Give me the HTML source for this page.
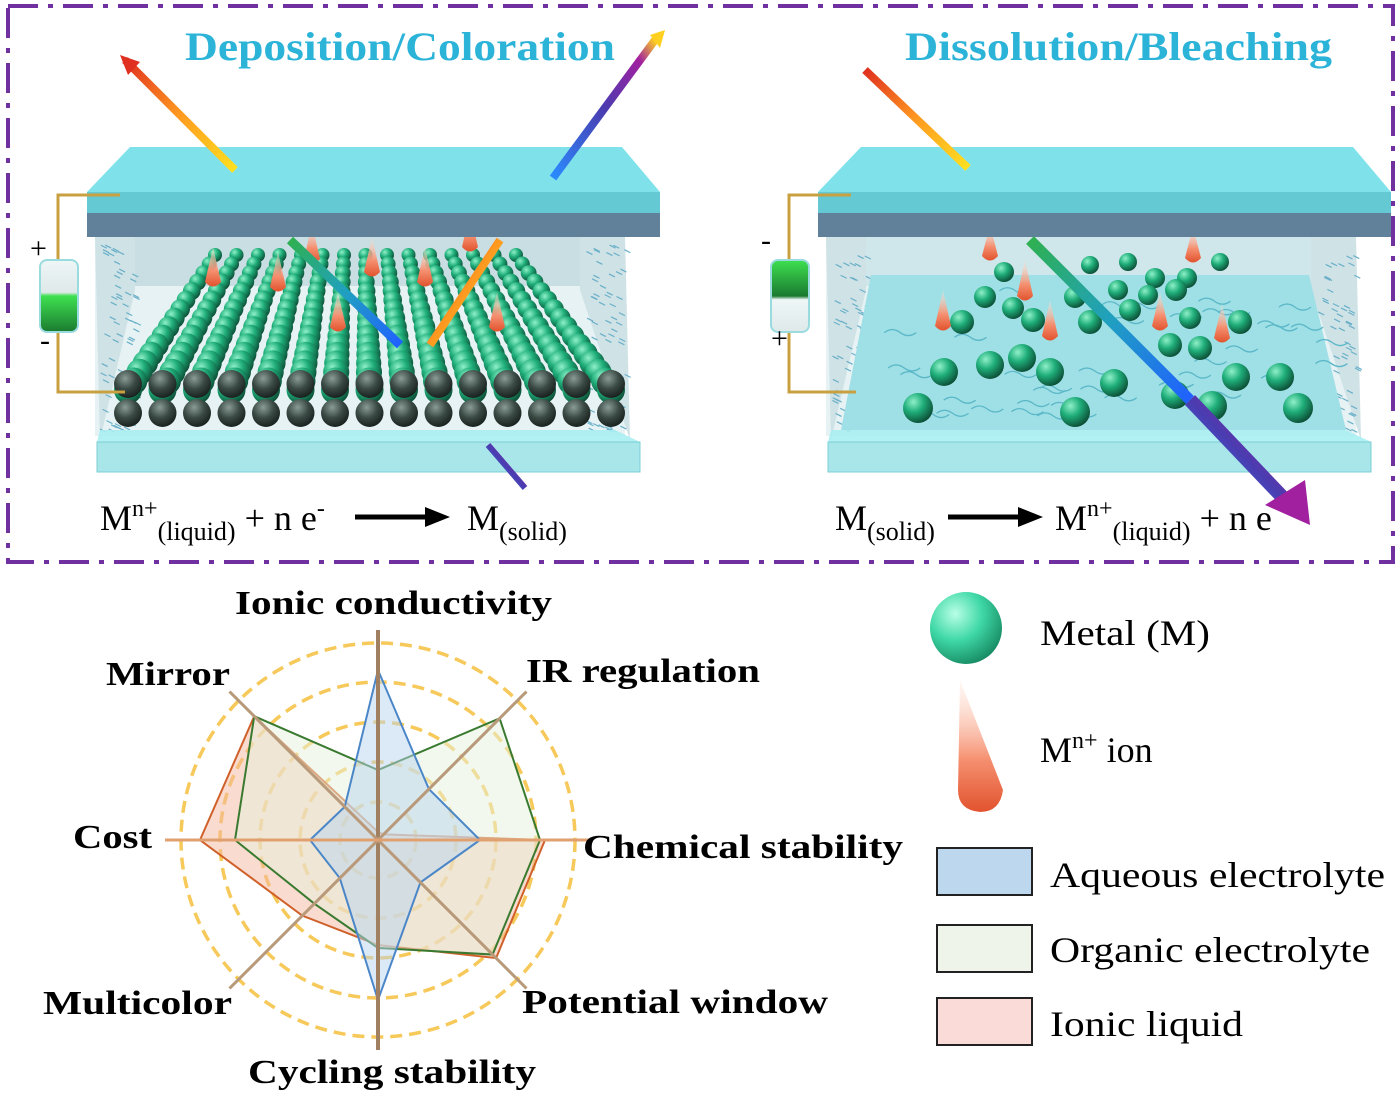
<!DOCTYPE html>
<html><head><meta charset="utf-8"><style>
html,body{margin:0;padding:0;background:#fff;}
svg{display:block;}
text{font-family:"Liberation Serif",serif;}
</style></head><body>
<svg id="s" width="1400" height="1099" viewBox="0 0 1400 1099" xmlns="http://www.w3.org/2000/svg">
<defs>
<radialGradient id="gs" cx="0.35" cy="0.3" r="0.75"><stop offset="0" stop-color="#8ff0c8"/><stop offset="0.45" stop-color="#1fae7a"/><stop offset="1" stop-color="#0b4a33"/></radialGradient>
<radialGradient id="gd" cx="0.4" cy="0.3" r="0.75"><stop offset="0" stop-color="#8a9c96"/><stop offset="0.5" stop-color="#3b4a45"/><stop offset="1" stop-color="#141c1a"/></radialGradient>
<radialGradient id="gb" cx="0.35" cy="0.3" r="0.75"><stop offset="0" stop-color="#b8ffe6"/><stop offset="0.5" stop-color="#3fd8a6"/><stop offset="1" stop-color="#178a63"/></radialGradient>
<linearGradient id="gc" x1="0" y1="0" x2="0" y2="1"><stop offset="0" stop-color="#ffe8dc" stop-opacity="0.3"/><stop offset="0.6" stop-color="#f59070"/><stop offset="1" stop-color="#e2532e"/></linearGradient>
<linearGradient id="r1" x1="0" y1="0" x2="1" y2="1"><stop offset="0" stop-color="#e03020"/><stop offset="0.5" stop-color="#ff9a20"/><stop offset="1" stop-color="#ffe020"/></linearGradient>
<linearGradient id="r2" x1="0" y1="1" x2="1" y2="0"><stop offset="0" stop-color="#2a8cff"/><stop offset="0.5" stop-color="#4a3cb0"/><stop offset="0.85" stop-color="#a020a0"/><stop offset="1" stop-color="#ffd020"/></linearGradient>
<linearGradient id="r3" x1="0" y1="0" x2="1" y2="1"><stop offset="0" stop-color="#2fb050"/><stop offset="0.5" stop-color="#20a0c0"/><stop offset="1" stop-color="#2060ff"/></linearGradient>
<linearGradient id="bat" x1="0" y1="0" x2="0" y2="1"><stop offset="0" stop-color="#eef6f6"/><stop offset="0.45" stop-color="#dfe9ea"/><stop offset="0.5" stop-color="#3ee050"/><stop offset="1" stop-color="#1b7a30"/></linearGradient>
<linearGradient id="bat2" x1="0" y1="0" x2="0" y2="1"><stop offset="0" stop-color="#3ee050"/><stop offset="0.5" stop-color="#1b7a30"/><stop offset="0.55" stop-color="#eef6f6"/><stop offset="1" stop-color="#dfe9ea"/></linearGradient>
</defs>

<rect x="8" y="6" width="1385" height="556" fill="none" stroke="#7030a0" stroke-width="4" stroke-dasharray="30,10,5,10"/>

<text x="185" y="60" textLength="430" lengthAdjust="spacingAndGlyphs" font-size="40" font-weight="bold" fill="#2bb3d8">Deposition/Coloration</text>
<text x="905" y="60" textLength="427" lengthAdjust="spacingAndGlyphs" font-size="40" font-weight="bold" fill="#2bb3d8">Dissolution/Bleaching</text>

<g id="left"></g>
<g id="right"></g>

<text x="100" y="530" font-size="36">M<tspan font-size="24" dy="-14">n+</tspan><tspan font-size="26" dy="24">(liquid)</tspan><tspan dy="-10"> + n e</tspan><tspan font-size="24" dy="-14">-</tspan></text>
<line x1="355" y1="517" x2="428" y2="517" stroke="#000" stroke-width="5"/><polygon points="425,507 450,517 425,527" fill="#000"/>
<text x="467" y="530" font-size="36">M<tspan font-size="26" dy="10">(solid)</tspan></text>
<text x="835" y="530" font-size="36">M<tspan font-size="26" dy="10">(solid)</tspan></text>
<line x1="948" y1="517" x2="1022" y2="517" stroke="#000" stroke-width="5"/><polygon points="1018,507 1043,517 1018,527" fill="#000"/>
<text x="1055" y="530" font-size="36">M<tspan font-size="24" dy="-14">n+</tspan><tspan font-size="26" dy="24">(liquid)</tspan><tspan dy="-10"> + n e</tspan></text>

<g id="radar"></g>
<g font-size="34" font-weight="bold">
<text x="235" y="614" textLength="317" lengthAdjust="spacingAndGlyphs">Ionic conductivity</text>
<text x="526" y="682" textLength="234" lengthAdjust="spacingAndGlyphs">IR regulation</text>
<text x="583" y="858" textLength="320" lengthAdjust="spacingAndGlyphs">Chemical stability</text>
<text x="522" y="1013" textLength="306" lengthAdjust="spacingAndGlyphs">Potential window</text>
<text x="248" y="1083" textLength="288" lengthAdjust="spacingAndGlyphs">Cycling stability</text>
<text x="43" y="1014" textLength="189" lengthAdjust="spacingAndGlyphs">Multicolor</text>
<text x="73" y="848" textLength="79" lengthAdjust="spacingAndGlyphs">Cost</text>
<text x="106" y="685" textLength="124" lengthAdjust="spacingAndGlyphs">Mirror</text>
</g>

<circle cx="966" cy="628" r="36" fill="url(#gb)"/>
<path d="M960,680 L1003,790 Q1000,812 980,812 Q958,810 958,790 Z" fill="url(#gc)"/>
<text x="1040" y="645" font-size="36" textLength="170" lengthAdjust="spacingAndGlyphs">Metal (M)</text>
<text x="1040" y="762" font-size="36">M<tspan font-size="24" dy="-14">n+</tspan><tspan dy="14"> ion</tspan></text>
<rect x="937" y="848" width="95" height="47" fill="#bdd7ee" stroke="#222" stroke-width="2"/>
<rect x="937" y="925" width="95" height="47" fill="#eef4ea" stroke="#222" stroke-width="2"/>
<rect x="937" y="998" width="95" height="47" fill="#fadbd8" stroke="#222" stroke-width="2"/>
<text x="1050" y="887" font-size="36" textLength="335" lengthAdjust="spacingAndGlyphs">Aqueous electrolyte</text>
<text x="1050" y="962" font-size="36" textLength="320" lengthAdjust="spacingAndGlyphs">Organic electrolyte</text>
<text x="1050" y="1036" font-size="36" textLength="193" lengthAdjust="spacingAndGlyphs">Ionic liquid</text>
</svg>
<script>
var NS="http://www.w3.org/2000/svg";
function el(p,t,a){var e=document.createElementNS(NS,t);for(var k in a)e.setAttribute(k,a[k]);p.appendChild(e);return e;}
function device(g,ox,dep){
  el(g,"rect",{x:ox+95,y:236,width:530,height:200,fill:"#e6f2f4"});
  el(g,"rect",{x:ox+135,y:236,width:445,height:50,fill:dep?"#c8dee2":"#cfe6ea"});
  el(g,"polygon",{points:(ox+95)+",236 "+(ox+135)+",236 "+(ox+135)+",290 "+(ox+100)+",440",fill:"#cfe2e6"});
  el(g,"polygon",{points:(ox+580)+",236 "+(ox+625)+",236 "+(ox+630)+",440 "+(ox+580)+",290",fill:"#cfe2e6"});
  for(var i=0;i<60;i++){var x=ox+100+Math.random()*35,y=245+Math.random()*185;el(g,"line",{x1:x,y1:y,x2:x+6,y2:y+3,stroke:"#6ab0c8","stroke-width":1.2});
    x=ox+585+Math.random()*40;el(g,"line",{x1:x,y1:y,x2:x+6,y2:y+3,stroke:"#6ab0c8","stroke-width":1.2});}
  if(dep){
    for(var r=0;r<16;r++){var t=r/15;var y=255+t*135;var rad=7+t*7;
      for(var c=0;c<15;c++){var fx=ox+128+c*34.5,bx=ox+215+c*21.5;var x=bx+(fx-bx)*t;
        el(g,"circle",{cx:x,cy:y,r:rad,fill:"url(#gs)"});}}
    for(var c=0;c<15;c++){var x=ox+128+c*34.5;el(g,"circle",{cx:x,cy:413,r:14,fill:"url(#gd)"});el(g,"circle",{cx:x,cy:384,r:14,fill:"url(#gd)"});}
    [[213,285],[278,290],[312,262],[372,275],[425,285],[470,250],[338,330],[497,330]].forEach(function(p){el(g,"path",{d:"M"+(ox+p[0])+","+(p[1]-38)+" L"+(ox+p[0]+8)+","+(p[1]-3)+" Q"+(ox+p[0])+","+(p[1]+6)+" "+(ox+p[0]-8)+","+(p[1]-3)+" Z",fill:"url(#gc)"});});
  }else{
    el(g,"polygon",{points:(ox+140)+",275 "+(ox+578)+",275 "+(ox+615)+",430 "+(ox+110)+",430",fill:"#9fe0e6"});
    for(var i=0;i<40;i++){var x=ox+130+Math.random()*470,y=290+Math.random()*130;el(g,"path",{d:"M"+x+","+y+" q8,-6 16,0 t16,0",stroke:"#5cb8c8",fill:"none","stroke-width":1.3});}
    [[1004,272,8],[1090,265,7],[1128,262,7],[1155,278,8],[1187,278,8],[1220,262,7],[1118,290,8],[1148,295,8],[985,297,9],[1013,308,9],[1075,297,9],[1130,310,9],[1176,290,9],[1190,318,9],[962,322,10],[1033,320,10],[1090,322,10],[1170,345,10],[1200,348,10],[1240,322,10],[944,372,12],[990,365,12],[1050,372,12],[1114,383,12],[1175,395,12],[1236,377,12],[1280,377,12],[1022,358,12],[918,408,13],[1075,412,13],[1212,406,13],[1298,408,13]].forEach(function(p){el(g,"circle",{cx:p[0],cy:p[1],r:p[2]+2,fill:"url(#gs)"});});
    [[990,260,35],[1193,262,35],[943,330,40],[1025,300,40],[1050,340,40],[1160,330,38],[1222,342,38]].forEach(function(p){var x=p[0];el(g,"path",{d:"M"+x+","+(p[1]-p[2])+" L"+(x+8)+","+(p[1]-4)+" Q"+x+","+(p[1]+5)+" "+(x-8)+","+(p[1]-4)+" Z",fill:"url(#gc)"});});
  }
  el(g,"polygon",{points:(ox+100)+",430 "+(ox+615)+",430 "+(ox+640)+",442 "+(ox+97)+",442",fill:"#a8eef2",opacity:0.9});
  el(g,"rect",{x:ox+97,y:442,width:543,height:30,fill:"#a8e6ea",stroke:"#7ccfd6"});
  el(g,"polygon",{points:(ox+130)+",147 "+(ox+622)+",147 "+(ox+660)+",192 "+(ox+87)+",192",fill:"#7fe2ea"});
  el(g,"rect",{x:ox+87,y:192,width:573,height:25,fill:"#64c9d2"});
  el(g,"rect",{x:ox+87,y:213,width:573,height:24,fill:"#61809a"});
  el(g,"path",{d:"M"+(ox+120)+",195 L"+(ox+58)+",195 L"+(ox+58)+",260 M"+(ox+58)+",332 L"+(ox+58)+",392 L"+(ox+125)+",392",stroke:"#c8a040",fill:"none","stroke-width":3});
  el(g,"rect",{x:ox+40,y:260,width:38,height:72,rx:7,fill:dep?"url(#bat)":"url(#bat2)",stroke:"#9adbe0","stroke-width":2});
  var sg=el(g,"g",{"font-size":"30","font-family":"Liberation Sans, sans-serif"});
  var a=el(sg,"text",{x:ox+30,y:dep?258:250});a.textContent=dep?"+":"-";
  var b=el(sg,"text",{x:ox+(dep?40:40),y:dep?350:348});b.textContent=dep?"-":"+";
}
function arrow(g,x1,y1,x2,y2,w,grad){el(g,"line",{x1:x1,y1:y1,x2:x2,y2:y2,stroke:"url(#"+grad+")","stroke-width":w});}
var L=document.getElementById("left"),R=document.getElementById("right");
device(L,0,true);device(R,731,false);
arrow(L,125,60,235,170,8,"r1");el(L,"polygon",{points:"120,55 140,62 128,75",fill:"#e03020"});
arrow(L,553,178,655,40,8,"r2");el(L,"polygon",{points:"650,35 665,30 660,48",fill:"#ffd020"});
arrow(L,290,240,400,345,9,"r3");arrow(L,430,345,500,240,8,"r1");
arrow(L,488,445,525,488,6,"r2");
arrow(R,865,70,968,168,8,"r1");
arrow(R,1030,240,1190,400,11,"r3");
arrow(R,1190,400,1290,505,14,"r2");el(R,"polygon",{points:"1265,505 1305,480 1310,525",fill:"#a020a0"});
var G=document.getElementById("radar"),cx=378,cy=840;
[197,158,118,78,38].forEach(function(r){el(G,"circle",{cx:cx,cy:cy,r:r,fill:"none",stroke:"#f6c95a","stroke-width":3.5,"stroke-dasharray":"12,7"});});
function pt(a,r){var t=(-90+a*45)*Math.PI/180;return [cx+r*Math.cos(t),cy+r*Math.sin(t)];}
function poly(rs,fill,stroke,op){var s=rs.map(function(r,i){return pt(i,r).join(",");}).join(" ");el(G,"polygon",{points:s,fill:fill,"fill-opacity":op,stroke:stroke,"stroke-width":2});}
poly([8,8,167,167,105,107,178,175],"#f4b8a0","#d0602a",0.5);
poly([70,172,162,162,108,90,143,175],"#e6f2dc","#3a7a30",0.5);
poly([170,72,102,60,160,54,68,47],"#b9d3ee","#4a86c8",0.5);
for(var i=0;i<4;i++){var a=pt(i,210),b=pt(i+4,210);el(G,"line",{x1:a[0],y1:a[1],x2:b[0],y2:b[1],stroke:i%2?"#b89a7a":"#a08060","stroke-width":i==0?4:3});}
el(G,"line",{x1:165,y1:840,x2:590,y2:840,stroke:"#e0a070","stroke-width":3});
</script>
</body></html>
